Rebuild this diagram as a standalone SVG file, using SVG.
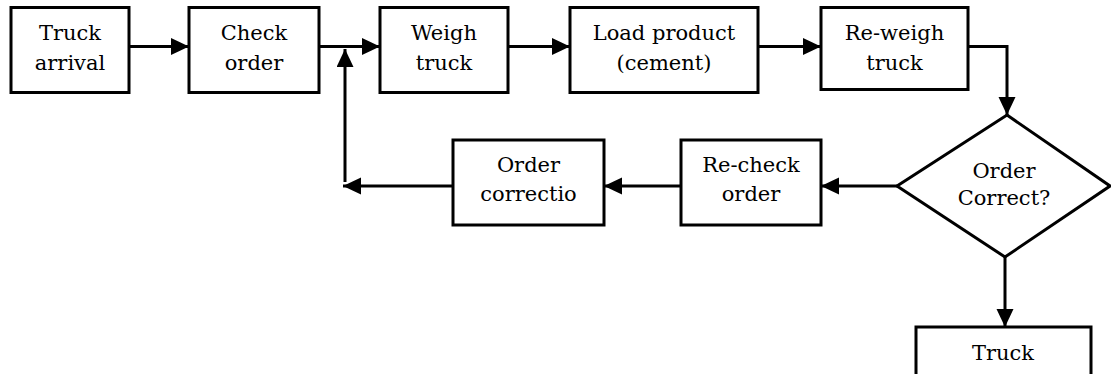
<svg xmlns="http://www.w3.org/2000/svg" width="1111" height="374" viewBox="0 0 1111 374">
<style>
.box{fill:#fff;stroke:#000;stroke-width:3}
.t{font-family:"DejaVu Serif","Liberation Serif",serif;font-size:21px;fill:#000;text-anchor:middle}
.c{fill:none;stroke:#000;stroke-width:3}
</style>
<defs>
<marker id="ah" markerUnits="userSpaceOnUse" markerWidth="20" markerHeight="18" refX="18" refY="8.5" orient="auto">
<path d="M0,0 L18,8.5 L0,17 z" fill="#000"/>
</marker>
</defs>
<rect width="1111" height="374" fill="#fff"/>
<g id="connectors">
<line class="c" x1="129" y1="46.5" x2="189" y2="46.5" marker-end="url(#ah)"/>
<line class="c" x1="319" y1="46.5" x2="380" y2="46.5" marker-end="url(#ah)"/>
<line class="c" x1="508" y1="46.5" x2="570" y2="46.5" marker-end="url(#ah)"/>
<line class="c" x1="758" y1="46.5" x2="821" y2="46.5" marker-end="url(#ah)"/>
<polyline class="c" points="968,46.5 1007,46.5 1007,115" marker-end="url(#ah)"/>
<line class="c" x1="897" y1="186" x2="821" y2="186" marker-end="url(#ah)"/>
<line class="c" x1="681" y1="186" x2="604" y2="186" marker-end="url(#ah)"/>
<line class="c" x1="453" y1="186" x2="343" y2="186" marker-end="url(#ah)"/>
<line class="c" x1="345" y1="182" x2="345" y2="49" marker-end="url(#ah)"/>
<line class="c" x1="1005" y1="257" x2="1005" y2="327" marker-end="url(#ah)"/>
</g>
<g id="n1"><rect class="box" x="11" y="7.5" width="118" height="85"/><text class="t" x="70" y="40">Truck</text><text class="t" x="70" y="70">arrival</text></g>
<g id="n2"><rect class="box" x="189" y="7.5" width="130" height="85"/><text class="t" x="254" y="40">Check</text><text class="t" x="254" y="70">order</text></g>
<g id="n3"><rect class="box" x="380" y="7.5" width="128" height="85"/><text class="t" x="444" y="40">Weigh</text><text class="t" x="444" y="70">truck</text></g>
<g id="n4"><rect class="box" x="570" y="7.5" width="188" height="85"/><text class="t" x="664" y="40">Load product</text><text class="t" x="664" y="70">(cement)</text></g>
<g id="n5"><rect class="box" x="821" y="7.5" width="147" height="82"/><text class="t" x="894.5" y="40">Re-weigh</text><text class="t" x="894.5" y="70">truck</text></g>
<g id="n6"><polygon class="box" points="1007,115 1110,186 1005,257 897,186"/><text class="t" x="1004" y="178">Order</text><text class="t" x="1004" y="205">Correct?</text></g>
<g id="n7"><rect class="box" x="681" y="140" width="140" height="85"/><text class="t" x="751" y="172">Re-check</text><text class="t" x="751" y="201">order</text></g>
<g id="n8"><rect class="box" x="453" y="140" width="151" height="85"/><text class="t" x="528.5" y="172">Order</text><text class="t" x="528.5" y="201">correctio</text></g>
<g id="n9"><rect class="box" x="916" y="327" width="175" height="60"/><text class="t" x="1003" y="360">Truck</text></g>
</svg>
